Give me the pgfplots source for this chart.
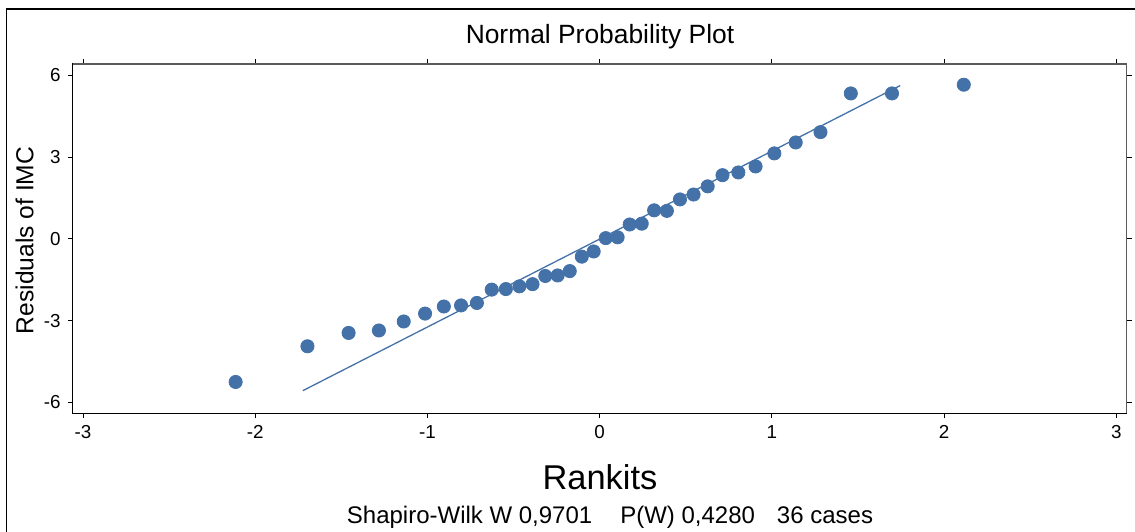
\documentclass[border=0pt]{standalone}
\usepackage{fontspec}
\setmainfont{Liberation Sans}
\usepackage{pgfplots}
\pgfplotsset{compat=1.18}
\definecolor{dotblue}{RGB}{68,114,168}
\definecolor{frgray}{RGB}{90,90,90}

\pgfplotstableread{
x y
-2.114 -5.25
-1.697 -3.94
-1.458 -3.45
-1.282 -3.36
-1.138 -3.03
-1.014 -2.74
-0.905 -2.48
-0.805 -2.44
-0.713 -2.35
-0.627 -1.86
-0.545 -1.84
-0.466 -1.74
-0.390 -1.66
-0.316 -1.36
-0.244 -1.34
-0.174 -1.18
-0.104 -0.65
-0.035 -0.46
0.035 0.03
0.104 0.06
0.174 0.53
0.244 0.56
0.316 1.05
0.390 1.03
0.466 1.45
0.545 1.63
0.627 1.93
0.713 2.34
0.805 2.44
0.905 2.66
1.014 3.14
1.138 3.54
1.282 3.92
1.458 5.34
1.697 5.34
2.114 5.66
}\rankits

\begin{document}
\begin{tikzpicture}
\useasboundingbox (0,0) rectangle (567.5pt,-265.5pt);
\begin{scope}
  \clip (0,0) rectangle (567.5pt,-265.5pt);
  \draw[line width=0.7pt] (3.3pt,-4.5pt) rectangle (575pt,-275pt);
\end{scope}

\begin{axis}[
  name=ax,
  at={(36.35pt,-206.65pt)}, anchor=south west,
  scale only axis, width=527pt, height=174.65pt,
  xmin=-3.06, xmax=3.06, ymin=-6.4, ymax=6.42,
  xtick={-3,...,3}, ytick={-6,-3,0,3,6},
  tick align=outside, major tick length=2.5pt,
  tick style={black, line width=0.5pt},
  axis line style={line width=0.6pt},
  ticklabel style={font=\fontsize{9.4}{11}\selectfont},
  /pgf/number format/assume math mode=true,
  clip=false,
]
  \addplot[dotblue, line width=0.65pt] coordinates {(-1.724,-5.57) (1.745,5.63)};
  \addplot[only marks, mark=*, mark size=3.3pt,
    mark options={draw=dotblue, fill=dotblue}] table {\rankits};
\end{axis}
\draw[frgray, line width=0.6pt] (ax.north west) -- (ax.north east) -- (ax.south east);

\node[anchor=base, font=\fontsize{13.2}{15}\selectfont] at (300pt,-21.65pt) {Normal Probability Plot};
\node[anchor=base, font=\fontsize{17.2}{20}\selectfont] at (300pt,-244.6pt) {Rankits};
\node[anchor=base, font=\fontsize{12}{14}\selectfont] at (305pt,-261.6pt)
  {Shapiro-Wilk W 0,9701\hspace{14pt}P(W) 0,4280\hspace{11pt}36 cases};
\node[rotate=90, anchor=base, font=\fontsize{12.3}{14}\selectfont] at (16.65pt,-120.2pt) {Residuals of IMC};
\end{tikzpicture}
\end{document}
